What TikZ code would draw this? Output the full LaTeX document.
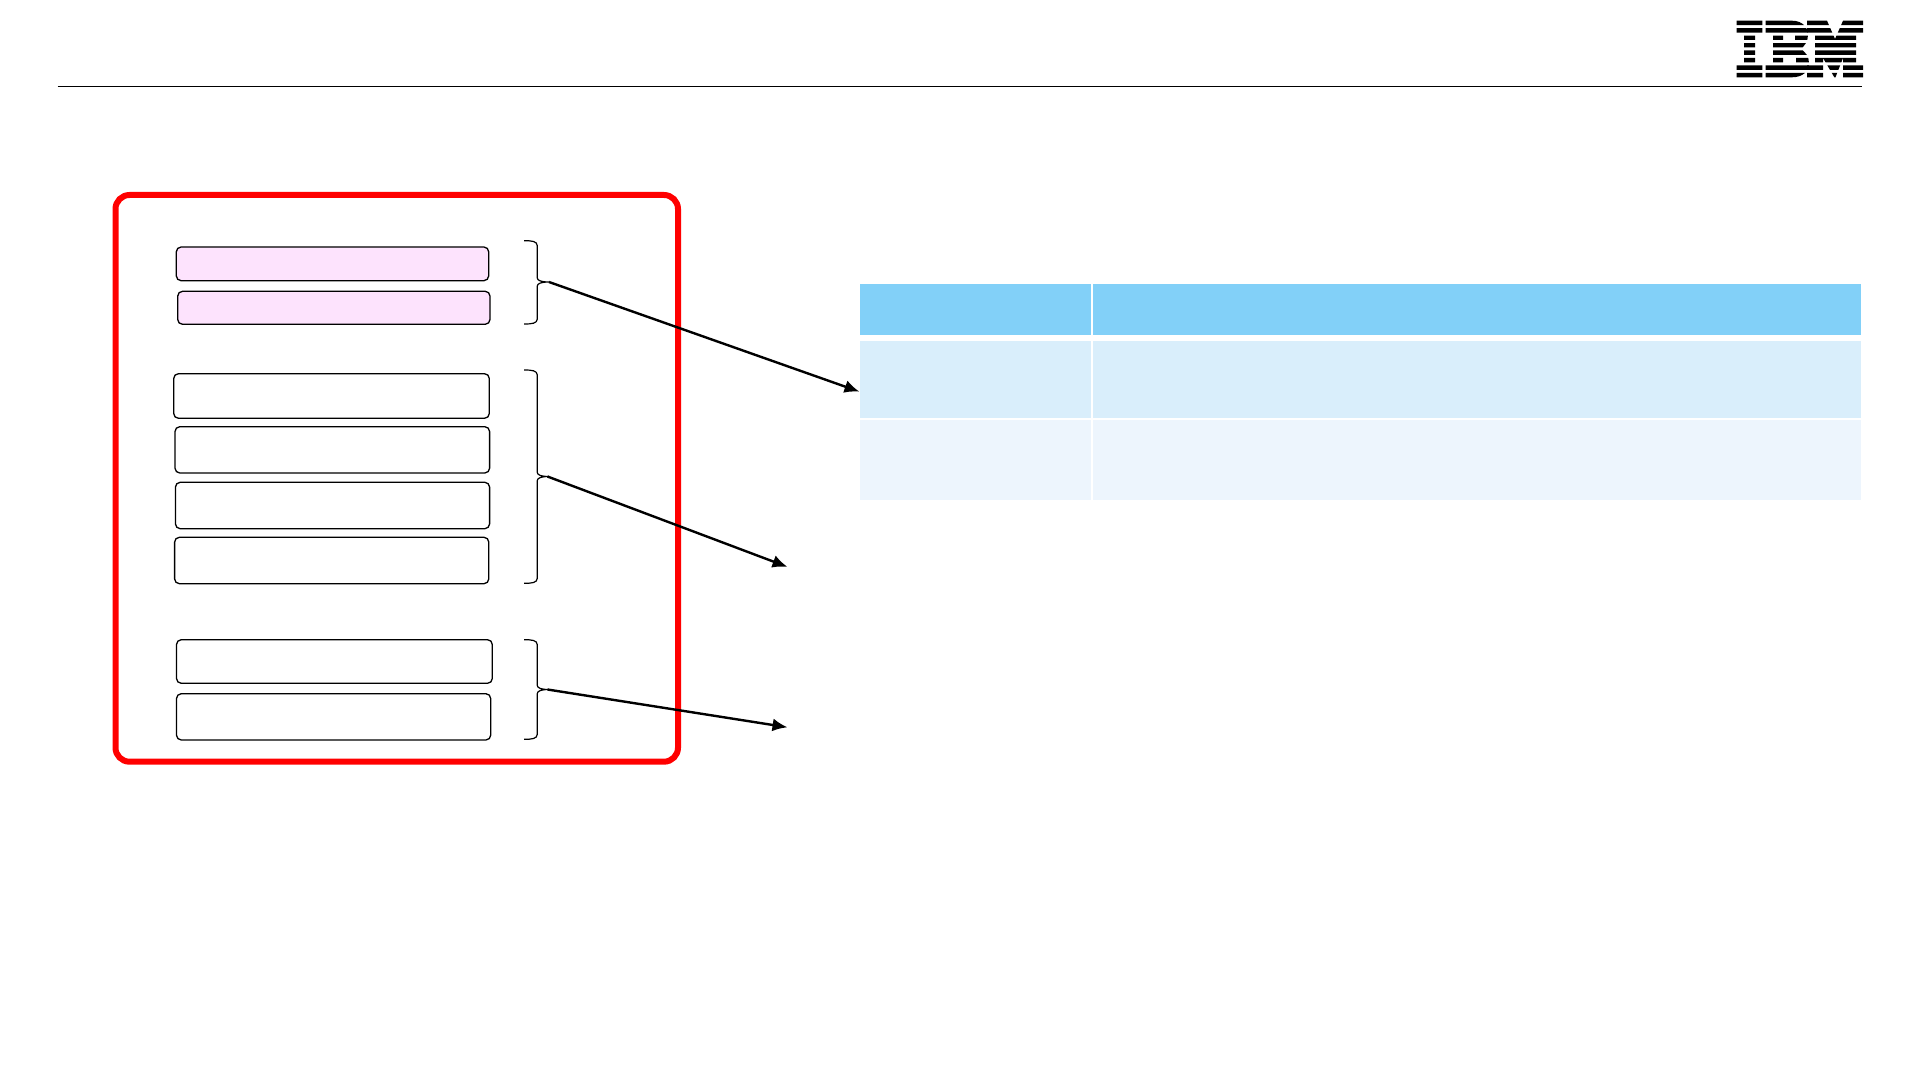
\documentclass[tikz,border=0pt]{standalone}
\usetikzlibrary{arrows.meta}
\definecolor{pinkfill}{HTML}{FDE3FD}
\definecolor{headblue}{HTML}{82D0F8}
\definecolor{rowone}{HTML}{D9EEFB}
\definecolor{rowtwo}{HTML}{EDF5FD}
\tikzset{
  roundbox/.style={draw=black,line width=0.65pt,rounded corners=2.4pt,fill=white,inner sep=0pt,outer sep=0pt},
  pinkbox/.style={roundbox,fill=pinkfill},
  cell/.style={inner sep=0pt,outer sep=0pt},
  headcell/.style={cell,fill=headblue},
  rowonecell/.style={cell,fill=rowone},
  rowtwocell/.style={cell,fill=rowtwo},
  frame/.style={draw=red,line width=3pt,rounded corners=7pt,inner sep=0pt,outer sep=0pt},
  bracket/.style={draw=black,line width=0.6pt},
  pointer/.style={draw=black,line width=1.2pt,-{Latex[length=7.5pt,width=6.5pt]}},
  rule/.style={draw=black,line width=0.45pt},
}
% \rectnode{style}{name}{x1}{y1}{x2}{y2}, in pixels of the 1920x1080 reference
\newcommand{\rectnode}[6]{%
  \node[#1,minimum width={(#5-#3)*0.5pt},minimum height={(#6-#4)*0.5pt}] (#2) at ({(#3+#5)/2},{(#4+#6)/2}) {};}
% \bracketpath{top}{mid}{bottom}
\newcommand{\bracketpath}[3]{%
  \draw[bracket] (524,#1) .. controls (532,#1) and (537,#1+0.5) .. (537.3,#1+5)
    -- (537.3,#2-4) .. controls (537.5,#2-1.5) and (541,#2) .. (549,#2)
    (549,#2) .. controls (541,#2) and (537.5,#2+1.5) .. (537.3,#2+4)
    -- (537.3,#3-5) .. controls (537,#3-0.5) and (532,#3) .. (524,#3);}
\begin{document}
\begin{tikzpicture}[x=0.5pt,y=-0.5pt]
\useasboundingbox (0,0) rectangle (1920,1080);
\fill[white] (0,0) rectangle (1920,1080);

% header rule
\coordinate (ruleL) at (57.5,86.05);
\coordinate (ruleR) at (1861.7,86.05);
\draw[rule] (ruleL) -- (ruleR);

% logo
\begin{scope}
  \clip (1730,20.7) rectangle (1870,25.1)
        (1730,28.2) rectangle (1870,32.6)
        (1730,35.6) rectangle (1870,40.0)
        (1730,43.1) rectangle (1870,47.5)
        (1730,50.5) rectangle (1870,54.9)
        (1730,58.0) rectangle (1870,62.4)
        (1730,65.5) rectangle (1870,69.9)
        (1730,72.9) rectangle (1870,77.3);
  % I
  \fill[black] (1736.7,20.7) -- (1762.3,20.7) -- (1762.3,33) -- (1755,33) -- (1755,65) -- (1762.3,65)
     -- (1762.3,77.3) -- (1736.7,77.3) -- (1736.7,65) -- (1744,65) -- (1744,33) -- (1736.7,33) -- cycle;
  % B
  \fill[black,even odd rule] (1765.7,20.7) -- (1792,20.7) .. controls (1803,20.7) and (1808,28) .. (1808,35)
     .. controls (1808,42) and (1804,46) .. (1801,49) .. controls (1805,52) and (1809,56) .. (1809,63)
     .. controls (1809,71) and (1803,77.3) .. (1792,77.3) -- (1765.7,77.3) -- (1765.7,65) -- (1773,65)
     -- (1773,33) -- (1765.7,33) -- cycle
     (1783,34) rectangle (1795,42.5)
     (1783,56) rectangle (1796,64);
  % M
  \fill[black] (1807,20.7) -- (1827,20.7) -- (1835,39) -- (1843,20.7) -- (1863,20.7) -- (1863,33) -- (1856,33)
     -- (1856,65) -- (1863,65) -- (1863,77.3) -- (1843,77.3) -- (1843,58) -- (1835,78.5) -- (1823,58)
     -- (1823,77.3) -- (1807,77.3) -- (1807,65) -- (1815,65) -- (1815,33) -- (1807,33) -- cycle;
\end{scope}

% table
\rectnode{headcell}{hA}{860}{284}{1091}{335}
\rectnode{headcell}{hB}{1093}{284}{1861}{335}
\rectnode{rowonecell}{rA}{860}{341}{1091}{417.7}
\rectnode{rowonecell}{rB}{1093}{341}{1861}{417.7}
\rectnode{rowtwocell}{sA}{860}{420}{1091}{499.7}
\rectnode{rowtwocell}{sB}{1093}{420}{1861}{499.7}

% red frame
\rectnode{frame}{redframe}{115.5}{195}{678}{761.7}

% stacked boxes
\rectnode{pinkbox}{p1}{176.3}{247}{488.7}{280.7}
\rectnode{pinkbox}{p2}{177.7}{291.3}{490}{324.3}
\rectnode{roundbox}{w1}{173.7}{373.7}{489.3}{418.3}
\rectnode{roundbox}{w2}{175}{426.7}{489.6}{473}
\rectnode{roundbox}{w3}{175.4}{482.3}{489.6}{528.7}
\rectnode{roundbox}{w4}{174.6}{537.3}{488.8}{583.7}
\rectnode{roundbox}{w5}{176.5}{639.7}{492.3}{683.3}
\rectnode{roundbox}{w6}{176.5}{693.7}{490.7}{740}

% brackets
\bracketpath{240.7}{282}{324}
\bracketpath{370}{476.5}{583.3}
\bracketpath{639.7}{689.5}{739.3}

% connectors
\coordinate (tipA) at (549,282);
\coordinate (tipB) at (547.5,476.5);
\coordinate (tipC) at (547.5,689.5);
\coordinate (endA) at (859.5,391.7);
\coordinate (endB) at (787.5,566.9);
\coordinate (endC) at (787.5,727.3);
\draw[pointer] (tipA) -- (endA);
\draw[pointer] (tipB) -- (endB);
\draw[pointer] (tipC) -- (endC);
\end{tikzpicture}
\end{document}
